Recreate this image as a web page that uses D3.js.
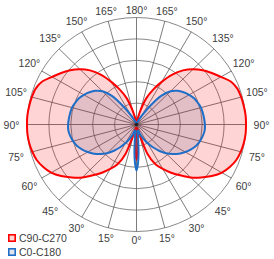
<!DOCTYPE html>
<html>
<head>
<meta charset="utf-8">
<script src="https://cdn.jsdelivr.net/npm/d3@7"></script>
<style>
  body { margin: 0; background: #fff; }
  text { font-family: "Liberation Sans", Arial, sans-serif; fill: #404040; }
</style>
</head>
<body>
<div id="chart"></div>
<script>
// gamma angles (deg from nadir), one side; the other side is mirrored
let angles = [0, 2, 4, 6, 8, 10, 15, 20, 25, 30, 35, 40, 45, 50, 55, 60, 65, 70, 75, 80, 85, 90,
    95, 100, 105, 110, 115, 120, 125, 130, 135, 140, 145, 150, 155, 160, 165, 170, 175, 180];

// relative intensity, C90-C270 plane
let c90 = [0.33, 0.27, 0.16, 0.07, 0.04, 0.03, 0.06, 0.29, 0.41, 0.48, 0.55, 0.62, 0.70, 0.77, 0.84, 0.90, 0.94, 0.97, 0.985, 0.995, 1.0, 1.0,
    1.0, 0.995, 0.99, 0.98, 0.95, 0.89, 0.84, 0.79, 0.73, 0.66, 0.57, 0.46, 0.36, 0.26, 0.13, 0.05, 0.02, 0.01];

// relative intensity, C0-C180 plane
let c0 = [0.43, 0.37, 0.27, 0.15, 0.08, 0.06, 0.06, 0.10, 0.145, 0.20, 0.26, 0.32, 0.38, 0.43, 0.475, 0.515, 0.55, 0.58, 0.60, 0.615, 0.625, 0.625,
    0.62, 0.615, 0.61, 0.595, 0.58, 0.555, 0.525, 0.49, 0.44, 0.35, 0.20, 0.09, 0.04, 0.02, 0.01, 0, 0, 0];

let rings = [0.2, 0.4, 0.6, 0.8, 1.0];
let spokeAngles = d3.range(0, 360, 15);
let labelAngles = [0, 15, 30, 45, 60, 75, 90, 105, 120, 135, 150, 165, 180];
let seriesNames = ["C90-C270", "C0-C180"];

let width = 274, height = 259;
let cx = 136.5, cy = 124.5;

// picture is slightly wider than tall
let rx = d3.scaleLinear().domain([0, 1]).range([0, 109.5]);
let ry = d3.scaleLinear().domain([0, 1]).range([0, 107]);

let svg = d3.select('#chart').append('svg')
    .attr('width', width)
    .attr('height', height);

// a = angle from nadir, positive to the right
function px(a, v) { return cx + rx(v) * Math.sin(a * Math.PI / 180); }
function py(a, v) { return cy + ry(v) * Math.cos(a * Math.PI / 180); }

let grid = svg.append('g');

grid.selectAll('ellipse').data(rings)
    .enter().append('ellipse')
    .attr('cx', cx)
    .attr('cy', cy)
    .attr('rx', function (d) { return rx(d); })
    .attr('ry', function (d) { return ry(d); })
    .style('fill', 'none')
    .style('stroke', '#6a6a6a')
    .style('stroke-width', 0.8);

grid.selectAll('line').data(spokeAngles)
    .enter().append('line')
    .attr('x1', cx)
    .attr('y1', cy)
    .attr('x2', function (d) { return px(d, 1); })
    .attr('y2', function (d) { return py(d, 1); })
    .style('stroke', '#5a5a5a')
    .style('stroke-width', 0.8);

function buildPoints(values) {
    let pts = [];
    for (let i = 0; i < angles.length; i++) {
        pts.push([angles[i], values[i]]);
    }
    for (let i = angles.length - 2; i > 0; i--) {
        pts.push([-angles[i], values[i]]);
    }
    return pts;
}

let curve = d3.line()
    .x(function (d) { return px(d[0], d[1]); })
    .y(function (d) { return py(d[0], d[1]); })
    .curve(d3.curveCatmullRomClosed.alpha(0.5));

let series = [
    { name: seriesNames[0], values: c90, stroke: '#ff0000', fill: 'rgba(255,0,0,0.17)' },
    { name: seriesNames[1], values: c0, stroke: '#1f6fc8', fill: 'rgba(60,70,120,0.15)' }
];

svg.selectAll('path.curve').data(series)
    .enter().append('path')
    .attr('class', 'curve')
    .attr('d', function (d) { return curve(buildPoints(d.values)); })
    .style('fill', function (d) { return d.fill; })
    .style('stroke', function (d) { return d.stroke; })
    .style('stroke-width', 2)
    .style('stroke-linejoin', 'round');

// centre dot
svg.append('circle')
    .attr('cx', cx)
    .attr('cy', cy)
    .attr('r', 1.8)
    .style('fill', '#222');

// angle labels, both sides
let labels = [];
labelAngles.forEach(function (a) {
    labels.push(a);
    if (a !== 0 && a !== 180) labels.push(-a);
});

svg.selectAll('text.ang').data(labels)
    .enter().append('text')
    .attr('class', 'ang')
    .attr('x', function (d) {
        let s = Math.sin(d * Math.PI / 180);
        return cx + (115 + 10 * Math.abs(s)) * s;
    })
    .attr('y', function (d) {
        let s = Math.abs(Math.sin(d * Math.PI / 180));
        return cy + (115 + 10 * s) * Math.cos(d * Math.PI / 180);
    })
    .attr('text-anchor', 'middle')
    .attr('dominant-baseline', 'central')
    .style('font-size', '10.5px')
    .text(function (d) { return Math.abs(d) + '°'; });

// legend
let legend = svg.append('g').attr('transform', 'translate(8, 234)');
let items = legend.selectAll('g').data(series)
    .enter().append('g')
    .attr('transform', function (d, i) { return 'translate(0,' + (i * 14) + ')'; });

items.append('rect')
    .attr('x', 0.8)
    .attr('y', 0.8)
    .attr('width', 6.4)
    .attr('height', 6.4)
    .style('fill', function (d) { return d.fill; })
    .style('stroke', function (d) { return d.stroke; })
    .style('stroke-width', 1.6);

items.append('text')
    .attr('x', 11)
    .attr('y', 8)
    .style('font-size', '10.5px')
    .text(function (d) { return d.name; });
</script>
</body>
</html>
